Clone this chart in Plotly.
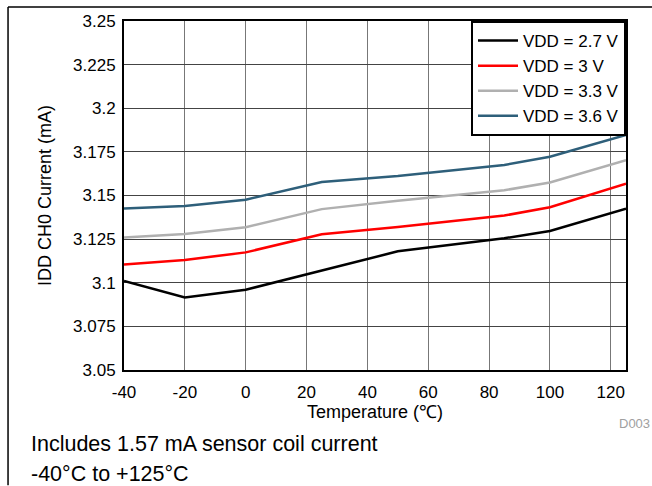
import plotly.graph_objects as go

temps = [-40, -20, 0, 25, 50, 85, 100, 125]
vdd_27 = [3.101, 3.0915, 3.096, 3.107, 3.118, 3.1255, 3.1297, 3.1425]
vdd_30 = [3.1104, 3.1131, 3.1174, 3.1278, 3.132, 3.1385, 3.1433, 3.1567]
vdd_33 = [3.1259, 3.128, 3.1318, 3.1422, 3.147, 3.153, 3.1575, 3.1703]
vdd_36 = [3.1425, 3.144, 3.1476, 3.1577, 3.1612, 3.1675, 3.1722, 3.1847]

series_names = ["VDD = 2.7 V", "VDD = 3 V", "VDD = 3.3 V", "VDD = 3.6 V"]
series_vals = [vdd_27, vdd_30, vdd_33, vdd_36]
colors = ["#000000", "#ff0000", "#b0b0b0", "#2e5f7a"]

x_ticks = [-40, -20, 0, 20, 40, 60, 80, 100, 120]
x_labels = ["-40", "-20", "0", "20", "40", "60", "80", "100", "120"]
y_ticks = [3.05, 3.075, 3.1, 3.125, 3.15, 3.175, 3.2, 3.225, 3.25]
y_labels = ["3.05", "3.075", "3.1", "3.125", "3.15", "3.175", "3.2", "3.225", "3.25"]

fig = go.Figure()
for name, vals, c in zip(series_names, series_vals, colors):
    fig.add_trace(go.Scatter(x=temps, y=vals, mode="lines", name=name,
                             line=dict(color=c, width=2.5)))

font_family = "Liberation Sans, Arial, sans-serif"
fig.update_layout(
    width=652, height=486,
    margin=dict(l=124, r=26, t=17, b=116),
    paper_bgcolor="white", plot_bgcolor="white",
    font=dict(family=font_family, size=17, color="black"),
    showlegend=True,
    legend=dict(x=1, y=1, xanchor="right", yanchor="top",
                bordercolor="black", borderwidth=2, bgcolor="white",
                font=dict(size=17, family=font_family),
                tracegroupgap=0, itemwidth=40),
    xaxis=dict(range=[-40, 125], tickvals=x_ticks, ticktext=x_labels, ticks="",
               ticklabelstandoff=6,
               showgrid=True, gridcolor="#777777", gridwidth=1, showline=True,
               linecolor="black", linewidth=2, mirror=True, zeroline=False,
               title=dict(text="Temperature (℃)", standoff=0, font=dict(size=18)),
               tickfont=dict(size=17)),
    yaxis=dict(range=[3.05, 3.25], tickvals=y_ticks, ticktext=y_labels, ticks="",
               ticklabelstandoff=3,
               showgrid=True, gridcolor="#444444", gridwidth=1, showline=True,
               linecolor="black", linewidth=2, mirror=True, zeroline=False,
               title=dict(text="IDD CH0 Current (mA)", standoff=17, font=dict(size=18)),
               tickfont=dict(size=17)),
)

# frame lines (left and top)
fig.add_shape(type="line", xref="paper", yref="paper", x0=-0.231, x1=-0.231,
              y0=1.04, y1=-0.33, line=dict(color="black", width=1.5))
fig.add_shape(type="line", xref="paper", yref="paper", x0=-0.231, x1=1.06,
              y0=1.04, y1=1.04, line=dict(color="black", width=1.5))

fig.add_annotation(text="D003", xref="paper", yref="paper", x=1.0515, y=-0.152,
                   xanchor="right", yanchor="middle", showarrow=False,
                   font=dict(size=13, color="#a0a0a0", family=font_family))
fig.add_annotation(text="Includes 1.57 mA sensor coil current", xref="paper", yref="paper",
                   x=-0.189, y=-0.213, xanchor="left", yanchor="middle", showarrow=False,
                   font=dict(size=21.5, color="black", family=font_family))
fig.add_annotation(text="-40°C to +125°C", xref="paper", yref="paper",
                   x=-0.189, y=-0.298, xanchor="left", yanchor="middle", showarrow=False,
                   font=dict(size=21.5, color="black", family=font_family))

fig.write_html("out.html", config={"displayModeBar": False},
               post_script="document.body.style.margin='0';document.body.style.padding='0';")
